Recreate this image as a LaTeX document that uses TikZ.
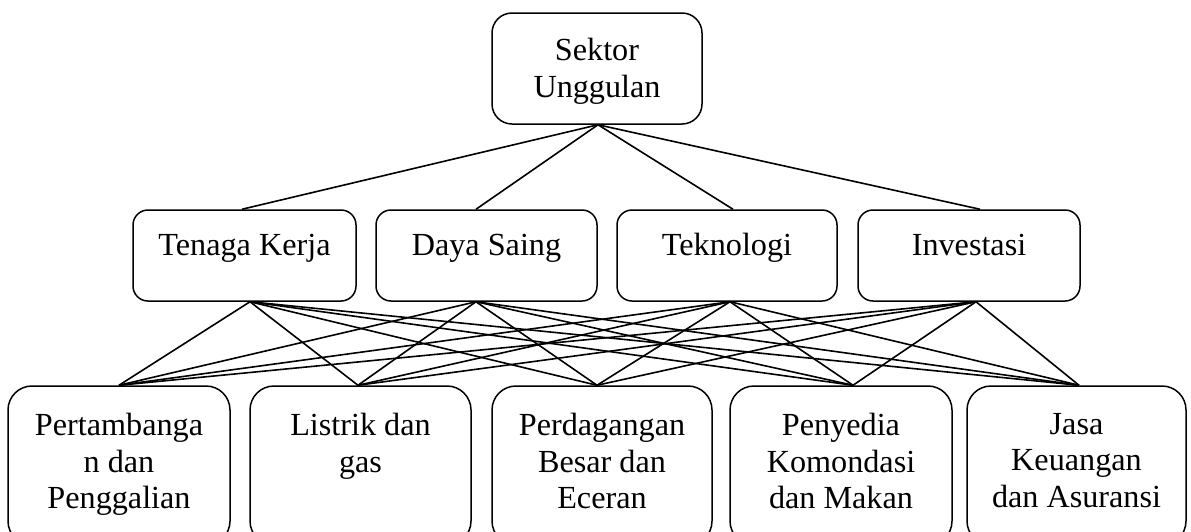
\documentclass[tikz,border=0pt]{standalone}
\usepackage{fontspec}
\setmainfont{Liberation Serif}
\begin{document}
\begin{tikzpicture}[x=1pt,y=-1pt,
  box/.style={draw, line width=1.5pt, inner sep=0pt, rectangle},
  topbox/.style={box, rounded corners=20pt, minimum width=210pt, minimum height=111pt},
  midbox/.style={box, rounded corners=15pt, minimum height=91pt},
  lowbox/.style={box, rounded corners=24pt, minimum height=159pt},
  lbl/.style={inner sep=0pt, align=center, font=\fontsize{32.2}{36.5}\selectfont},
  link/.style={line width=1.6pt}]
\useasboundingbox (0,0) rectangle (1191,531);
\clip (0,0) rectangle (1191,531);

% goal
\node[topbox] (top) at (597,68.5) {};
\node[lbl, anchor=north] (toptext) at (597,38) {Sektor\\Unggulan};

% criteria
\node[midbox, minimum width=223pt] (m1) at (244.5,255.5) {};
\node[midbox, minimum width=221pt] (m2) at (486.5,255.5) {};
\node[midbox, minimum width=220pt] (m3) at (727,255.5) {};
\node[midbox, minimum width=222pt] (m4) at (969,255.5) {};
\node[lbl, anchor=base] (m1text) at (244.5,255) {Tenaga Kerja};
\node[lbl, anchor=base] (m2text) at (486.5,255) {Daya Saing};
\node[lbl, anchor=base] (m3text) at (727,255) {Teknologi};
\node[lbl, anchor=base] (m4text) at (969,255) {Investasi};

% alternatives
\node[lowbox, minimum width=222pt] (b1) at (119,465.5) {};
\node[lowbox, minimum width=221pt] (b2) at (360.5,465.5) {};
\node[lowbox, minimum width=220pt] (b3) at (602,465.5) {};
\node[lowbox, minimum width=222pt] (b4) at (841,465.5) {};
\node[lowbox, minimum width=219pt] (b5) at (1076.5,465.5) {};
\node[lbl, anchor=north] (b1text) at (119,413) {Pertambanga\\n dan\\Penggalian};
\node[lbl, anchor=north] (b2text) at (360.5,413) {Listrik dan\\gas};
\node[lbl, anchor=north] (b3text) at (602,413) {Perdagangan\\Besar dan\\Eceran};
\node[lbl, anchor=north] (b4text) at (841,413) {Penyedia\\Komondasi\\dan Makan};
\node[lbl, anchor=north] (b5text) at (1076.5,413) {Jasa\\Keuangan\\dan Asuransi};

% connection points on the box edges
\coordinate (top-out) at ([xshift=1pt]top.south);
\coordinate (m1-in) at ([xshift=-2.5pt]m1.north);
\coordinate (m2-in) at ([xshift=-10.5pt]m2.north);
\coordinate (m3-in) at ([xshift=6pt]m3.north);
\coordinate (m4-in) at ([xshift=11pt]m4.north);
\coordinate (m1-out) at ([xshift=5.5pt]m1.south);
\coordinate (m2-out) at ([xshift=-10.5pt]m2.south);
\coordinate (m3-out) at ([xshift=3pt]m3.south);
\coordinate (m4-out) at ([xshift=7pt]m4.south);
\coordinate (b1-in) at (b1.north);
\coordinate (b2-in) at ([xshift=-2.5pt]b2.north);
\coordinate (b3-in) at ([xshift=-5pt]b3.north);
\coordinate (b4-in) at ([xshift=12pt]b4.north);
\coordinate (b5-in) at ([xshift=2.5pt]b5.north);

% goal to criteria
\foreach \m in {m1,m2,m3,m4}
  \draw[link] (top-out) -- (\m-in);

% every criterion to every alternative
\foreach \m in {m1,m2,m3,m4}
  \foreach \b in {b1,b2,b3,b4,b5}
    \draw[link] (\m-out) -- (\b-in);
\end{tikzpicture}
\end{document}
